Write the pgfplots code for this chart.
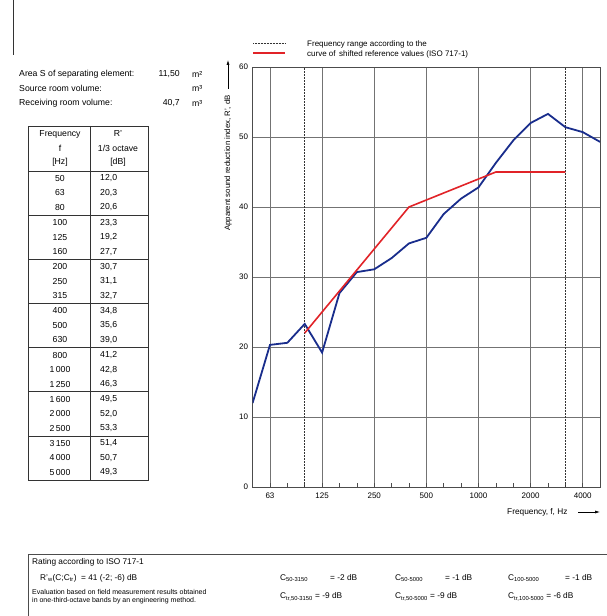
\documentclass[border=0pt]{standalone}
\usepackage{fontspec}
\setmainfont{Liberation Sans}
\usepackage{pgfplots}
\pgfplotsset{compat=1.18}
\usetikzlibrary{arrows.meta}
\definecolor{navy}{RGB}{25,45,140}
\definecolor{refred}{RGB}{225,35,40}
\newcommand{\fs}[1]{\fontsize{#1}{#1}\selectfont}
\begin{document}
\begin{tikzpicture}[x=1pt,y=1pt]
\path[use as bounding box] (0,0) rectangle (607,616);
\begin{axis}[
  scale only axis, width=347.5pt, height=420pt,
  at={(252.6pt,129pt)}, anchor=south west,
  xmin=0,xmax=20,ymin=0,ymax=60,
  xtick={1,4,7,10,13,16,19},
  xticklabels={63,125,250,500,1000,2000,4000},
  minor xtick={0,...,20},
  ytick={0,10,...,60},
  grid=major,
  major grid style={black!55, line width=0.6pt},
  axis line style={line width=0.6pt, black!70},
  xtick pos=bottom, ytick pos=left,
  tick align=inside,
  major tick length=0pt,
  minor tick length=4pt,
  minor tick style={black!70, line width=0.5pt},
  tick label style={font=\fs{8}},
  xticklabel style={yshift=-2pt},
  yticklabel style={xshift=-1pt},
  /pgf/number format/assume math mode=true,
]
\addplot[black!80, densely dotted, line width=0.5pt] coordinates {(3,0)(3,60)};
\addplot[black!80, densely dotted, line width=0.5pt] coordinates {(18,0)(18,60)};
\addplot[navy, line width=1.8pt] coordinates {
(0,12.0)(1,20.3)(2,20.6)(3,23.3)(4,19.2)(5,27.7)(6,30.7)(7,31.1)(8,32.7)(9,34.8)
(10,35.6)(11,39.0)(12,41.2)(13,42.8)(14,46.3)(15,49.5)(16,52.0)(17,53.3)(18,51.4)(19,50.7)(20,49.3)};
\addplot[refred, line width=1.6pt] coordinates {
(3,22)(4,25)(5,28)(6,31)(7,34)(8,37)(9,40)(10,41)(11,42)(12,43)(13,44)(14,45)(15,45)(16,45)(17,45)(18,45)};
\end{axis}

\begin{scope}[every node/.style={inner sep=0pt}]
% legend
\draw[black!80, densely dotted, line width=0.5pt] (253,573) -- (285,573);
\draw[refred, line width=1.2pt] (253,563) -- (285,563);
\node[anchor=west,font=\fs{8}] at (307,572) {Frequency range according to the};
\node[anchor=west,font=\fs{8}] at (307,562) {curve of\, shifted reference values (ISO 717-1)};

% left page line
\draw[black!80, line width=0.6pt] (13,616) -- (13,561);

% info
\node[anchor=west,font=\fs{8.7}] at (19,542) {Area S of separating element:};
\node[anchor=east,font=\fs{8.7}] at (180,542) {11,50};
\node[anchor=west,font=\fs{8.7}] at (192,542) {m²};
\node[anchor=west,font=\fs{8.7}] at (19,528) {Source room volume:};
\node[anchor=west,font=\fs{8.7}] at (192,528) {m³};
\node[anchor=west,font=\fs{8.7}] at (19,513) {Receiving room volume:};
\node[anchor=east,font=\fs{8.7}] at (180,513) {40,7};
\node[anchor=west,font=\fs{8.7}] at (192,513) {m³};

% table
\draw[black!80, line width=0.6pt] (28,490) rectangle (148,136);
\draw[black!80, line width=0.6pt] (90,490) -- (90,136);
\foreach \k in {0,...,6} {
  \draw[black!80, line width=0.6pt] (28,{445-44.14*\k}) -- (148,{445-44.14*\k});
}
\node[font=\fs{8.7}] at (60,482) {Frequency};
\node[font=\fs{8.7}] at (60,468) {f};
\node[font=\fs{8.7}] at (60,454) {[Hz]};
\node[font=\fs{8.7}] at (118,482) {R'};
\node[font=\fs{8.7}] at (118,468) {1/3 octave};
\node[font=\fs{8.7}] at (118,454) {[dB]};
\foreach \f/\r [count=\i from 0] in {50/{12,0},63/{20,3},80/{20,6},100/{23,3},125/{19,2},160/{27,7},200/{30,7},250/{31,1},315/{32,7},400/{34,8},500/{35,6},630/{39,0},800/{41,2},1\,000/{42,8},1\,250/{46,3},1\,600/{49,5},2\,000/{52,0},2\,500/{53,3},3\,150/{51,4},4\,000/{50,7},5\,000/{49,3}} {
  \pgfmathtruncatemacro{\g}{int(\i/3)}
  \pgfmathtruncatemacro{\m}{\i-3*\g}
  \pgfmathsetmacro{\yy}{445-44.14*\g-7.5-14.5*\m}
  \node[font=\fs{8.7}] at (60,\yy) {\f};
  \node[font=\fs{8.7},anchor=west] at (100,\yy) {\r};
}

% axis labels
\node[rotate=90,font=\fs{7.8}] at (228,453) {Apparent sound reduction index, R', dB};
\draw[black, line width=0.6pt, -{Latex[length=5pt,width=3pt]}] (228,527) -- (228,556);
\node[anchor=west,font=\fs{8.3}] at (507,104) {Frequency, f, Hz};
\draw[black, line width=0.6pt, -{Latex[length=5pt,width=3pt]}] (578,104) -- (600,104);

% rating box
\draw[black!70, line width=0.6pt] (28,-5) -- (28,62) -- (612,62);
\node[anchor=west,font=\fs{8.3}] at (32,54) {Rating according to ISO 717-1};
\node[anchor=west,font=\fs{8.3}] at (40,38) {R'\textsubscript{w}(C;C\textsubscript{tr})\ \ = 41 (-2; -6) dB};
\node[anchor=west,font=\fs{7}] at (32,24) {Evaluation based on field measurement results obtained};
\node[anchor=west,font=\fs{7}] at (32,15) {in one-third-octave bands by an engineering method.};
\node[anchor=west,font=\fs{8.3}] at (280,38) {C\textsubscript{50-3150}};
\node[anchor=west,font=\fs{8.3}] at (330,38) {= -2 dB};
\node[anchor=west,font=\fs{8.3}] at (280,19) {C\textsubscript{tr,50-3150} = -9 dB};
\node[anchor=west,font=\fs{8.3}] at (395,38) {C\textsubscript{50-5000}};
\node[anchor=west,font=\fs{8.3}] at (445,38) {= -1 dB};
\node[anchor=west,font=\fs{8.3}] at (395,19) {C\textsubscript{tr,50-5000} = -9 dB};
\node[anchor=west,font=\fs{8.3}] at (508,38) {C\textsubscript{100-5000}};
\node[anchor=west,font=\fs{8.3}] at (565,38) {= -1 dB};
\node[anchor=west,font=\fs{8.3}] at (508,19) {C\textsubscript{tr,100-5000} = -6 dB};
\end{scope}
\end{tikzpicture}
\end{document}
